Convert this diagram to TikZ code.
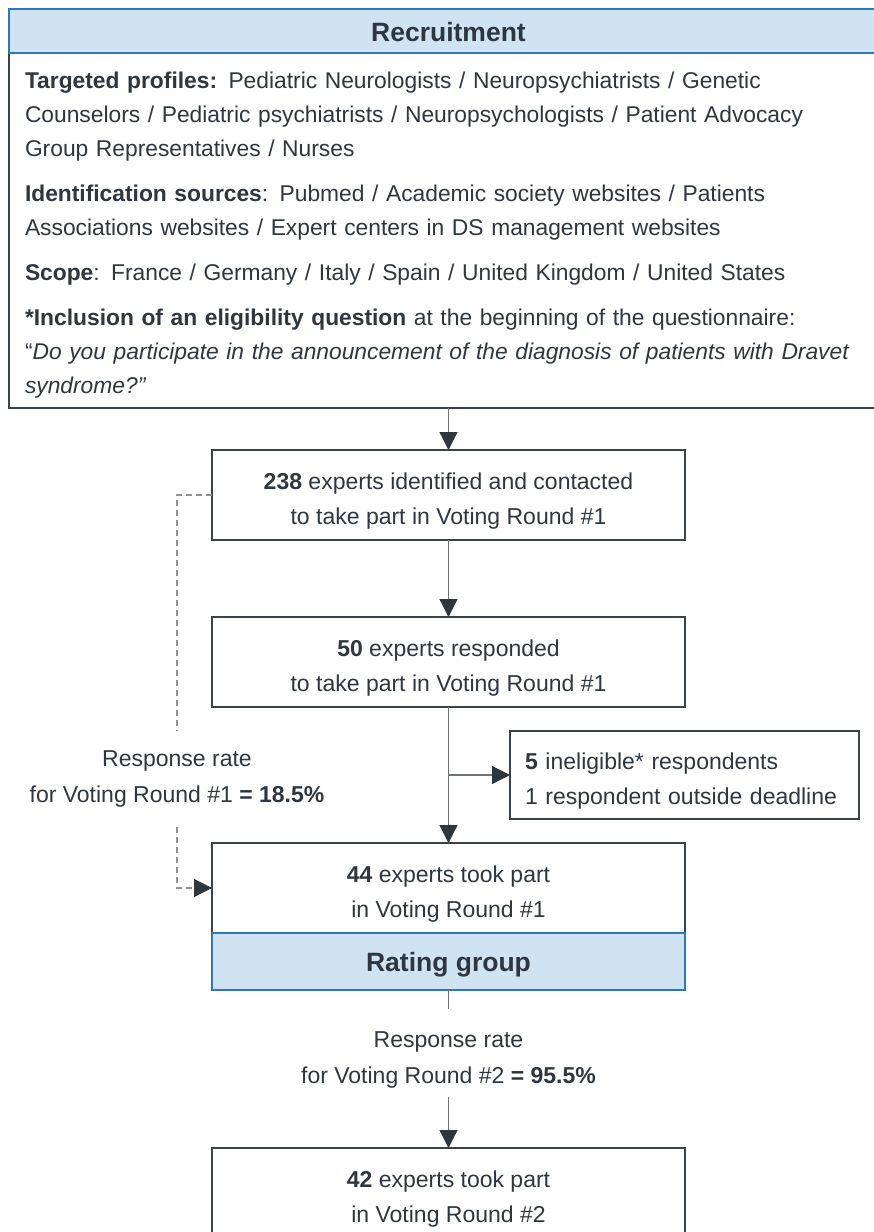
\documentclass[tikz,border=0pt]{standalone}
\usepackage{fontspec}
\setmainfont{Liberation Sans}
\usetikzlibrary{arrows.meta,positioning}
\definecolor{rtext}{HTML}{2E3640}
\definecolor{rline}{HTML}{3C424A}
\definecolor{rconn}{HTML}{6E7378}
\definecolor{rdash}{HTML}{8E9296}
\definecolor{rhead}{HTML}{CFE3F3}
\definecolor{rblue}{HTML}{2F78B5}

\begin{document}
\begin{tikzpicture}[x=1pt,y=-1pt,
  font=\fontsize{23}{35.5}\selectfont,text=rtext,
  bx/.style={draw=rline,line width=1.4pt,outer sep=0pt,inner sep=0pt,
             minimum width=473pt,minimum height=90pt,align=center,
             text height=64.5pt,text depth=5pt},
  hd/.style={draw=rblue,fill=rhead,line width=1.6pt,outer sep=0pt,inner sep=0pt,
             text height=25pt,text depth=5pt,
             font=\fontsize{26.5}{30}\selectfont\bfseries},
  lbl/.style={align=center,inner xsep=0pt},
  ln/.style={draw=rconn,line width=1.2pt},
  a/.style={ln,-{Triangle[length=18pt,width=18pt,color=rtext]}},
  d/.style={draw=rdash,line width=1.2pt,dash pattern=on 6pt off 4pt}
]
\useasboundingbox (0,0) rectangle (874,1232);

% recruitment block
\node[draw=rline,line width=1.4pt,outer sep=0pt,anchor=north west,
      minimum width=879pt,minimum height=355pt,text width=847pt,inner xsep=16pt,
      text depth=299.6pt,align=left,font=\fontsize{22.8}{34}\selectfont] (crit) at (9,53)
  {\textbf{Targeted profiles:} Pediatric Neurologists / Neuropsychiatrists / Genetic\\
   Counselors / Pediatric psychiatrists / Neuropsychologists / Patient Advocacy\\
   Group Representatives / Nurses\\[11pt]
   \textbf{Identification sources}: Pubmed / Academic society websites / Patients\\
   Associations websites / Expert centers in DS management websites\\[11pt]
   \textbf{Scope}: France / Germany / Italy / Spain / United Kingdom / United States\\[11pt]
   \textbf{*Inclusion of an eligibility question} at the beginning of the questionnaire:\\
   “\textit{Do you participate in the announcement of the diagnosis of patients with Dravet}\\
   \textit{syndrome?”}};
\node[hd,anchor=north west,minimum width=879pt,minimum height=44pt] (rec) at (9,9) {Recruitment};

% voting round boxes
\node[bx,anchor=north] (ident) at (448.5,450)
  {\textbf{238} experts identified and contacted\\to take part in Voting Round \#1};
\node[bx,anchor=north] (resp) at (448.5,617)
  {\textbf{50} experts responded\\to take part in Voting Round \#1};
\node[bx,anchor=north west,minimum width=349pt,minimum height=88pt,align=left,
      text width=319pt,inner xsep=15pt,text height=17pt,text depth=29pt] (excl) at (510,731)
  {\textbf{5} ineligible* respondents\\1 respondent outside deadline};
\node[bx,anchor=north] (took1) at (448.5,843)
  {\textbf{44} experts took part\\in Voting Round \#1};
\node[hd,anchor=north,minimum width=473pt,minimum height=57pt] (rate) at (took1.south) {Rating group};
\node[bx,anchor=north] (took2) at (448.5,1148)
  {\textbf{42} experts took part\\in Voting Round \#2};

% response rates
\node[lbl,inner ysep=20pt] (rr1) at (177,779)
  {Response rate\\for Voting Round \#1 \textbf{= 18.5\%}};
\node[lbl,inner ysep=9pt] (rr2) at (448.5,1060)
  {Response rate\\for Voting Round \#2 \textbf{= 95.5\%}};
\coordinate[below=19pt of rate] (stub);

\draw[a] (crit) -- (ident);
\draw[a] (ident) -- (resp);
\draw[a] (resp) -- (took1);
\draw[a] (resp.south |- excl.west) -- (excl.west);
\draw[d] (ident.west) -| (rr1.north);
\draw[d,-{Triangle[length=18pt,width=18pt,color=rtext]}] (rr1.south) |- (took1.west);
\draw[ln] (rate) -- (stub);
\draw[a] (rr2) -- (took2);
\end{tikzpicture}
\end{document}
